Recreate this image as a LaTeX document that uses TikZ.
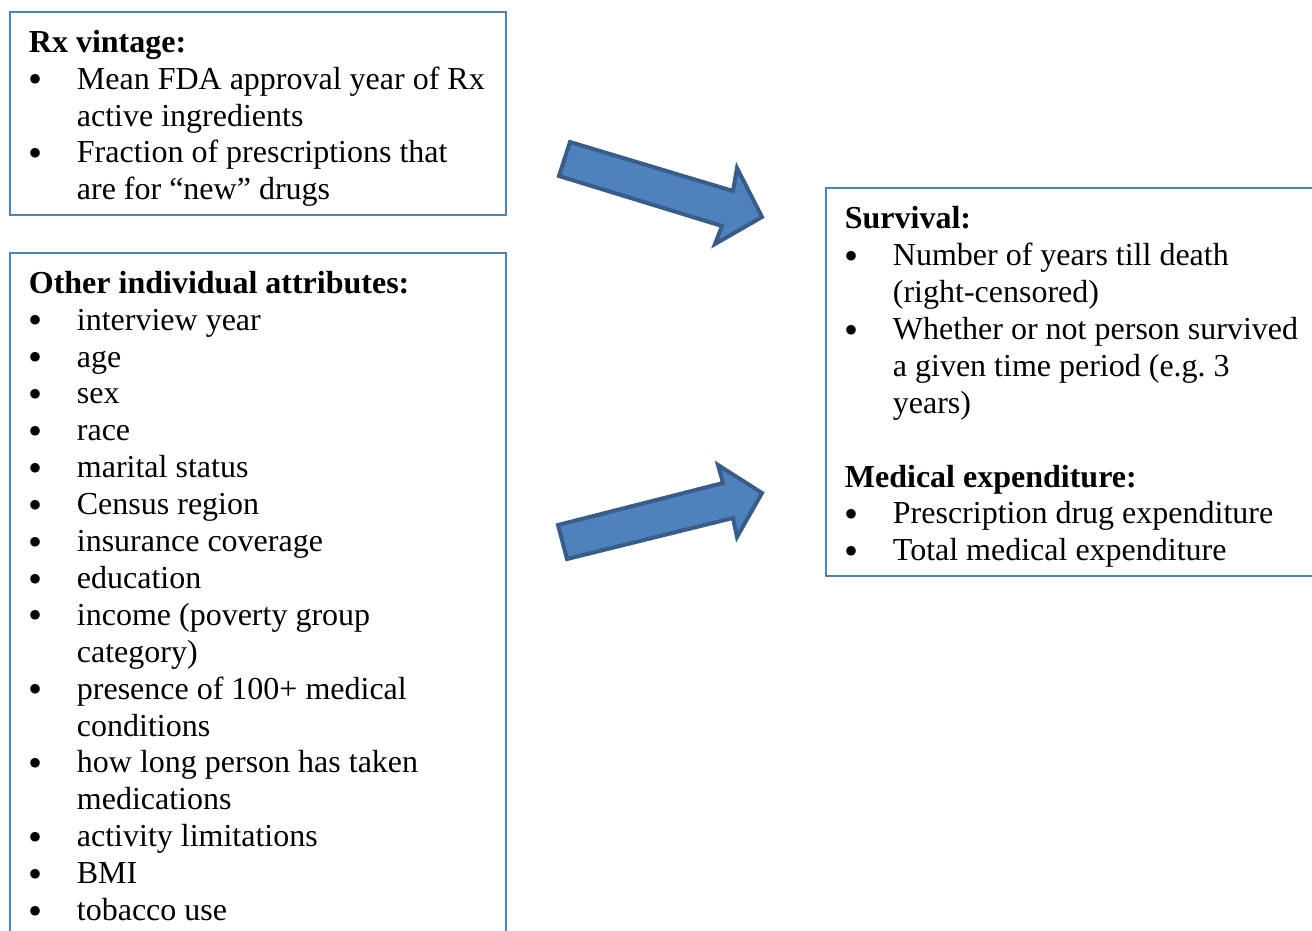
\documentclass[tikz,border=0pt]{standalone}
\usepackage{fontspec}
\setmainfont{Liberation Serif}
\usetikzlibrary{positioning}
\definecolor{boxblue}{HTML}{4F81BD}
\definecolor{arrowedge}{HTML}{385D8A}
\newcommand{\bul}{\makebox[24pt][l]{\raisebox{-1.8pt}{\scalebox{1.25}{\textbullet}}}}
\newcommand{\cont}{\hspace*{24pt}}

\begin{document}
\begin{tikzpicture}[x=0.5pt, y=-0.5pt,
  frame/.style={draw=boxblue, line width=0.8pt},
  listtext/.style={anchor=north west, inner sep=0pt, align=left,
    font=\fontsize{16}{18.45}\selectfont\frenchspacing},
  bigarrow/.style={fill=boxblue, draw=arrowedge, line width=2pt, line join=miter}]

\useasboundingbox (0,0) rectangle (1312,931);
\clip (0,0) rectangle (1312,931);

% boxes
\draw [frame] (10,12) rectangle (506,215);
\draw [frame] (10,253) rectangle (506,960);
\draw [frame] (826,188) rectangle (1340,576);

% lists
\node (rxvintage) at (28.5,26) [listtext] {\strut\textbf{Rx vintage:}\\
  \bul Mean FDA approval year of Rx\\
  \cont active ingredients\\
  \bul Fraction of prescriptions that\\
  \cont are for ``new'' drugs};

\node (attributes) at (28.5,267) [listtext] {\strut\textbf{Other individual attributes:}\\
  \bul interview year\\
  \bul age\\
  \bul sex\\
  \bul race\\
  \bul marital status\\
  \bul Census region\\
  \bul insurance coverage\\
  \bul education\\
  \bul income (poverty group\\
  \cont category)\\
  \bul presence of 100+ medical\\
  \cont conditions\\
  \bul how long person has taken\\
  \cont medications\\
  \bul activity limitations\\
  \bul BMI\\
  \bul tobacco use};

\node (outcomes) at (844.5,202.5) [listtext] {\strut\textbf{Survival:}\\
  \bul Number of years till death\\
  \cont (right-censored)\\
  \bul Whether or not person survived\\
  \cont a given time period (e.g. 3\\
  \cont years)\\[18.45pt]
  \textbf{Medical expenditure:}\\
  \bul Prescription drug expenditure\\
  \bul Total medical expenditure};

% arrows
\draw [bigarrow] (570,142) -- (733,191) -- (737,168) -- (762,217) -- (715,244) -- (722,226) -- (559,176) -- cycle;
\draw [bigarrow] (558,525) -- (723,483) -- (718,465) -- (762,493) -- (737,537) -- (733,518) -- (567,559) -- cycle;

\end{tikzpicture}
\end{document}
